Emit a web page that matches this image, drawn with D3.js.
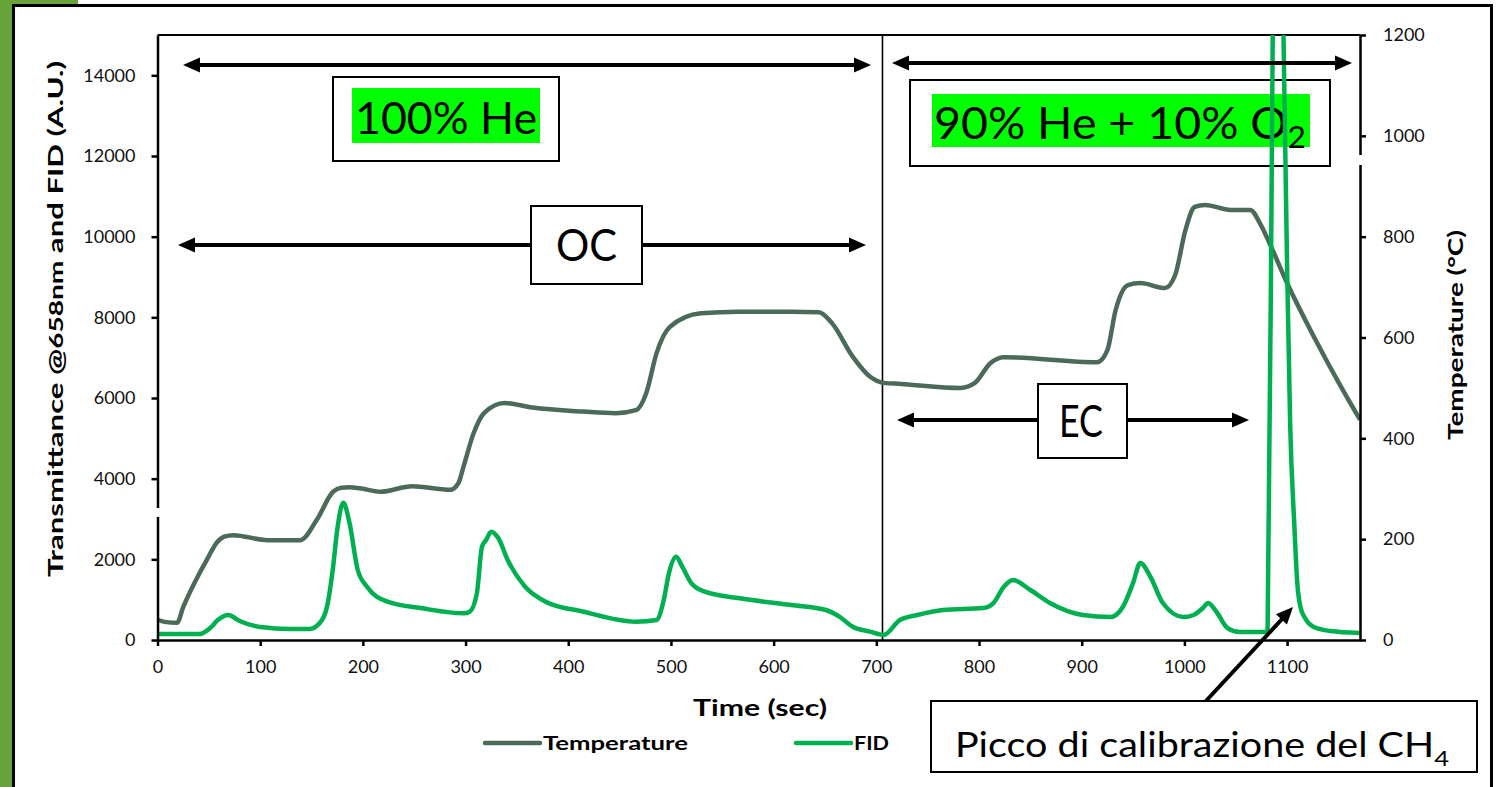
<!DOCTYPE html>
<html lang="it">
<head>
  <meta charset="UTF-8">
  <title>OC / EC thermal-optical analysis</title>
  <script src="https://d3js.org/d3.v7.min.js"></script>
  <style>
    body {
      margin: 0;
      background: white;
    }

    svg {
      display: block;
      font-family: "Century Gothic", Lato, "DejaVu Sans", sans-serif;
    }

    .axis path,
    .axis line {
      stroke: black;
      stroke-width: 2.5;
    }

    .axis text {
      font-family: "Century Gothic", Lato, sans-serif;
      font-size: 18px;
      fill: #111;
    }
  </style>
</head>

<body>
  <div id="chart"></div>
  <script>

    // temperature (right axis, °C)
    const tempTime = [0, 7, 19, 25, 41, 48, 58, 65, 74, 107, 139, 155, 171, 179, 187, 197, 217, 248, 285, 293, 298, 308,
      318, 338, 365, 415, 446, 466, 476, 486, 499, 529, 566, 617, 644, 657, 677, 694, 707, 724, 782, 796,
      811, 824, 915, 925, 933, 945, 957, 981, 991, 1001, 1010, 1020, 1045, 1064, 1074, 1084, 1100, 1127, 1152, 1171]
    const tempValue = [40, 36, 34, 65, 133, 159, 194, 205, 208, 198, 198, 238, 294, 302, 303, 301, 294, 305, 298, 311, 344, 411,
      450, 470, 461, 453, 450, 456, 490, 569, 621, 648, 651, 651, 650, 628, 562, 522, 510, 508, 500, 510,
      549, 561, 551, 575, 654, 704, 708, 698, 724, 813, 859, 863, 853, 853, 825, 782, 708, 598, 504, 437]

    // FID signal (left axis, A.U.)
    const fidTime = [0, 41, 51, 59, 69, 80, 100, 129, 148, 158, 165, 171, 175, 181, 187, 195, 204, 224, 258, 298,
      304, 311, 316, 320, 325, 332, 341, 358, 378, 415, 466, 486, 493, 498, 505, 511, 520, 533, 567, 617,
      651, 664, 677, 694, 707, 723, 740, 765, 804, 814, 824, 833, 850, 869, 901, 928, 940, 950, 957, 967,
      979, 999, 1009, 1018, 1023, 1032, 1042, 1054, 1081, 1086, 1088, 1093, 1096.5, 1100, 1103, 1107, 1110, 1113, 1118, 1126,
      1142, 1171]
    const fidValue = [150, 150, 290, 500, 620, 470, 322, 273, 273, 421, 818, 1810, 2727, 3400, 2900, 1735, 1322, 950, 785, 661,
      702, 1157, 2313, 2479, 2685, 2521, 1983, 1321, 950, 702, 454, 496, 992, 1653, 2065, 1817, 1405, 1198, 1033, 868,
      744, 578, 330, 206, 124, 496, 620, 744, 793, 917, 1314, 1487, 1240, 917, 620, 570, 818, 1413, 1908, 1562,
      917, 570, 620, 793, 917, 669, 297, 198, 198, 15000, 20000, 20000, 15000, 9250, 5330, 2876, 1388, 818, 520, 322,
      223, 174]

    const timeTicks = [0, 100, 200, 300, 400, 500, 600, 700, 800, 900, 1000, 1100]
    const leftTicks = [0, 2000, 4000, 6000, 8000, 10000, 12000, 14000]
    const rightTicks = [0, 200, 400, 600, 800, 1000, 1200]
    const seriesNames = ['Temperature', 'FID']
    const switchTime = 706 // He -> He/O2

    const width = 1506
    const height = 787
    const plot = { left: 157.5, right: 1360, top: 35, bottom: 640 }
    const colors = { Temperature: '#4b6a5a', FID: '#00b050' }

    const x = d3.scaleLinear().domain([0, 1171]).range([plot.left, plot.right])
    const yLeft = d3.scaleLinear().domain([0, 15000]).range([plot.bottom, plot.top])
    const yRight = d3.scaleLinear().domain([0, 1200]).range([plot.bottom, plot.top])

    const svg = d3.select('#chart')
      .append('svg')
      .attr('width', width)
      .attr('height', height)

    // slide frame
    svg.append('rect').attr('x', 0).attr('y', 0).attr('width', 12).attr('height', height).attr('fill', '#68a33a')
    svg.append('rect').attr('x', 0).attr('y', 0).attr('width', 78).attr('height', 5).attr('fill', '#68a33a')
    svg.append('rect')
      .attr('x', 13.5).attr('y', 5.5).attr('width', 1478).attr('height', 800)
      .attr('fill', 'none').attr('stroke', 'black').attr('stroke-width', 3)

    svg.append('defs').append('clipPath').attr('id', 'clip')
      .append('rect')
      .attr('x', plot.left).attr('y', plot.top)
      .attr('width', plot.right - plot.left).attr('height', plot.bottom - plot.top)

    // top frame line and phase separator
    svg.append('line')
      .attr('x1', plot.left).attr('x2', plot.right)
      .attr('y1', plot.top).attr('y2', plot.top)
      .attr('stroke', 'black').attr('stroke-width', 2)

    svg.append('line')
      .attr('x1', x(switchTime)).attr('x2', x(switchTime))
      .attr('y1', plot.top).attr('y2', plot.bottom)
      .attr('stroke', 'black').attr('stroke-width', 1.6)

    // gas boxes with green highlight
    function gasBox(bx, by, bw, bh, hx, hy, hw, hh) {
      svg.append('rect').attr('x', bx).attr('y', by).attr('width', bw).attr('height', bh)
        .attr('fill', 'white').attr('stroke', 'black').attr('stroke-width', 2)
      svg.append('rect').attr('x', hx).attr('y', hy).attr('width', hw).attr('height', hh)
        .attr('fill', '#00ff00')
    }
    gasBox(333, 77, 226, 84, 352, 88, 188, 55)
    gasBox(910, 80, 420, 86, 932, 94, 378, 53)

    svg.append('text')
      .attr('x', 355).attr('y', 134)
      .attr('font-size', 44)
      .attr('textLength', 182).attr('lengthAdjust', 'spacingAndGlyphs')
      .text('100% He')

    const o2 = svg.append('text')
      .attr('x', 934).attr('y', 139)
      .attr('font-size', 44)
      .attr('textLength', 372).attr('lengthAdjust', 'spacingAndGlyphs')
    o2.append('tspan').text('90% He + 10% O')
    o2.append('tspan').attr('font-size', 30).attr('dy', 9).text('2')

    // series
    const lineFor = scale => d3.line()
      .x(d => x(d[0]))
      .y(d => scale(d[1]))
      .curve(d3.curveMonotoneX)

    const lines = svg.append('g').attr('clip-path', 'url(#clip)')

    lines.append('path')
      .datum(d3.zip(tempTime, tempValue))
      .attr('d', lineFor(yRight))
      .attr('fill', 'none')
      .attr('stroke', colors.Temperature)
      .attr('stroke-width', 4.5)
      .attr('stroke-linejoin', 'round')

    lines.append('path')
      .datum(d3.zip(fidTime, fidValue))
      .attr('d', lineFor(yLeft))
      .attr('fill', 'none')
      .attr('stroke', colors.FID)
      .attr('stroke-width', 4.5)
      .attr('stroke-linejoin', 'round')

    // arrows
    function arrowHead(tx, ty, angle) {
      const l = 17, w = 7.5
      const a = angle * Math.PI / 180
      const bx = tx - l * Math.cos(a), by = ty - l * Math.sin(a)
      const pts = [
        [tx, ty],
        [bx - w * Math.sin(a), by + w * Math.cos(a)],
        [bx + w * Math.sin(a), by - w * Math.cos(a)]
      ]
      svg.append('path').attr('d', 'M' + pts.join('L') + 'Z').attr('fill', 'black')
    }

    function doubleArrow(x1, x2, y) {
      svg.append('line')
        .attr('x1', x1 + 10).attr('x2', x2 - 10).attr('y1', y).attr('y2', y)
        .attr('stroke', 'black').attr('stroke-width', 4)
      arrowHead(x1, y, 180)
      arrowHead(x2, y, 0)
    }

    doubleArrow(183, 871, 65)
    doubleArrow(892, 1352, 63)
    doubleArrow(178, 866, 245)
    doubleArrow(897, 1249, 420)

    function labelBox(bx, by, bw, bh, label, tx, ty, size, len) {
      svg.append('rect').attr('x', bx).attr('y', by).attr('width', bw).attr('height', bh)
        .attr('fill', 'white').attr('stroke', 'black').attr('stroke-width', 2)
      return svg.append('text').attr('x', tx).attr('y', ty).attr('font-size', size)
        .attr('textLength', len).attr('lengthAdjust', 'spacingAndGlyphs')
        .text(label)
    }

    labelBox(531, 206, 111, 78, 'OC', 556, 261, 44, 61)
    labelBox(1038, 384, 89, 74, 'EC', 1059, 437, 44, 44)

    // calibration peak callout
    svg.append('line')
      .attr('x1', 1205).attr('y1', 702).attr('x2', 1283).attr('y2', 618)
      .attr('stroke', 'black').attr('stroke-width', 4)
    arrowHead(1293, 607, Math.atan2(607 - 702, 1293 - 1205) * 180 / Math.PI)

    svg.append('rect').attr('x', 931).attr('y', 701).attr('width', 546).attr('height', 71)
      .attr('fill', 'white').attr('stroke', 'black').attr('stroke-width', 2)
    const ch4 = svg.append('text')
      .attr('x', 955).attr('y', 757)
      .attr('font-size', 34)
      .attr('textLength', 494).attr('lengthAdjust', 'spacingAndGlyphs')
    ch4.append('tspan').text('Picco di calibrazione  del CH')
    ch4.append('tspan').attr('font-size', 22).attr('dy', 9).text('4')

    // axes
    svg.append('g')
      .attr('class', 'axis')
      .attr('transform', `translate(0,${plot.bottom})`)
      .call(d3.axisBottom(x).tickValues(timeTicks).tickFormat(d3.format('d'))
        .tickSize(6).tickSizeOuter(0).tickPadding(14))

    svg.append('g')
      .attr('class', 'axis')
      .attr('transform', `translate(${plot.left},0)`)
      .call(d3.axisLeft(yLeft).tickValues(leftTicks).tickFormat(d3.format('d'))
        .tickSize(6).tickSizeOuter(0).tickPadding(16))

    svg.append('g')
      .attr('class', 'axis')
      .attr('transform', `translate(${plot.right},0)`)
      .call(d3.axisRight(yRight).tickValues(rightTicks).tickFormat(d3.format('d'))
        .tickSize(6).tickSizeOuter(0).tickPadding(17))

    // small breaks in the axis lines
    svg.append('rect').attr('x', plot.left - 4).attr('y', 508).attr('width', 8).attr('height', 9).attr('fill', 'white')
    svg.append('rect').attr('x', plot.right - 4).attr('y', 155).attr('width', 8).attr('height', 10).attr('fill', 'white')

    // axis titles
    const leftTitle = svg.append('text')
      .attr('transform', 'translate(63,319) rotate(-90)')
      .attr('text-anchor', 'middle')
      .attr('font-weight', 'bold')
      .attr('font-size', 20)
      .attr('textLength', 516).attr('lengthAdjust', 'spacingAndGlyphs')
    leftTitle.append('tspan').text('Transmittance @')
    leftTitle.append('tspan').attr('font-size', 18).text('658nm')
    leftTitle.append('tspan').text(' and FID (A.U.)')

    svg.append('text')
      .attr('transform', 'translate(1463,335) rotate(-90)')
      .attr('text-anchor', 'middle')
      .attr('font-weight', 'bold')
      .attr('font-size', 21)
      .attr('textLength', 210).attr('lengthAdjust', 'spacingAndGlyphs')
      .text('Temperature (°C)')

    svg.append('text')
      .attr('x', 693).attr('y', 716)
      .attr('font-weight', 'bold')
      .attr('font-size', 22)
      .attr('textLength', 134).attr('lengthAdjust', 'spacingAndGlyphs')
      .text('Time (sec)')

    // legend
    const legendX = [485, 796]
    const legendText = [145, 35]
    seriesNames.forEach((name, i) => {
      svg.append('line')
        .attr('x1', legendX[i]).attr('x2', legendX[i] + 55)
        .attr('y1', 743).attr('y2', 743)
        .attr('stroke', colors[name]).attr('stroke-width', 4.5)
        .attr('stroke-linecap', 'round')
      svg.append('text')
        .attr('x', legendX[i] + 58).attr('y', 750)
        .attr('font-weight', 'bold')
        .attr('font-size', 19)
        .attr('textLength', legendText[i]).attr('lengthAdjust', 'spacingAndGlyphs')
        .text(name)
    })

  </script>
</body>

</html>
